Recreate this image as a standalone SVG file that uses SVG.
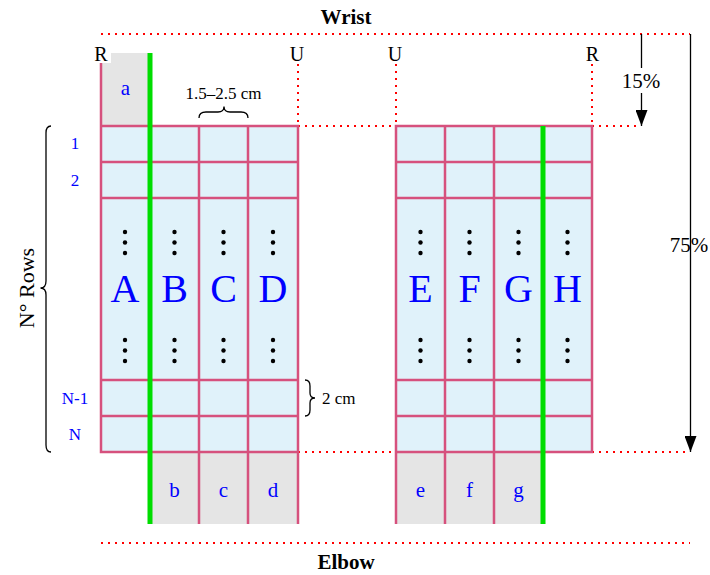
<svg xmlns="http://www.w3.org/2000/svg" width="710" height="575" viewBox="0 0 710 575">
<defs>
<style>
.grid{stroke:#d6517d;stroke-width:2.5;fill:none}
.cell{fill:#e0f2fa}
.gray{fill:#e5e5e5}
.green{stroke:#00dd00;stroke-width:5}
.dot{stroke:#ff0000;stroke-width:2;stroke-dasharray:2 5;fill:none}
.blk{stroke:#000;stroke-width:1.3;fill:none}
.t{font-family:"Liberation Serif","Times New Roman",serif;fill:#000}
.b{font-family:"Liberation Serif","Times New Roman",serif;fill:#0000ff;text-anchor:middle}
.big{font-size:40px}
.sm{font-size:21px}
.row{font-size:17px}
.vd{fill:#000}
</style>
<marker id="ah" markerWidth="16" markerHeight="12" refX="16" refY="6" orient="auto" markerUnits="userSpaceOnUse" viewBox="0 0 16 12">
<path d="M0,0 L16,6 L0,12 Z" fill="#000"/>
</marker>
<g id="vdots"><circle cx="0" cy="0" r="2.2"/><circle cx="0" cy="10.5" r="2.2"/><circle cx="0" cy="21" r="2.2"/></g>
</defs>
<rect width="710" height="575" fill="#fff"/>

<g id="guides">
<path class="dot" d="M101,34 H690"/>
<path class="dot" d="M101,543 H690"/>
<path class="dot" d="M298,64 V126 M298,126 H396 M396,64 V126 M592,64 V126 M592,126 H641"/>
<path class="dot" d="M298,452 H396 M592,452 H690"/>
</g>

<g id="left-grid">
<rect class="gray" x="101" y="53" width="49" height="73"/>
<rect class="cell" x="101" y="126" width="197" height="326"/>
<rect class="gray" x="150" y="452" width="148" height="72"/>
<path class="grid" d="M101,63 V452 H298 V126 H101 M150,126 V452 M199,126 V524 M248,126 V524 M298,452 V524 M101,162 H298 M101,198 H298 M101,380 H298 M101,416 H298"/>
<line class="green" x1="150" y1="53" x2="150" y2="524"/>
</g>

<g id="right-grid">
<rect class="cell" x="396" y="126" width="196" height="326"/>
<rect class="gray" x="396" y="452" width="147" height="72"/>
<path class="grid" d="M396,126 H592 V452 H396 Z M396,452 V524 M445,126 V524 M494,126 V524 M396,162 H592 M396,198 H592 M396,380 H592 M396,416 H592"/>
<line class="green" x1="543" y1="126" x2="543" y2="524"/>
</g>

<g id="column-labels">
<text class="b big" x="125" y="302">A</text>
<text class="b big" x="174.5" y="302">B</text>
<text class="b big" x="223.5" y="302">C</text>
<text class="b big" x="273" y="302">D</text>
<text class="b big" x="420.5" y="302">E</text>
<text class="b big" x="469.5" y="302">F</text>
<text class="b big" x="518.5" y="302">G</text>
<text class="b big" x="567.5" y="302">H</text>
<g class="vd">
<use href="#vdots" x="125" y="232"/><use href="#vdots" x="174.5" y="232"/><use href="#vdots" x="223.5" y="232"/><use href="#vdots" x="273" y="232"/>
<use href="#vdots" x="420.5" y="232"/><use href="#vdots" x="469.5" y="232"/><use href="#vdots" x="518.5" y="232"/><use href="#vdots" x="567.5" y="232"/>
<use href="#vdots" x="125" y="340"/><use href="#vdots" x="174.5" y="340"/><use href="#vdots" x="223.5" y="340"/><use href="#vdots" x="273" y="340"/>
<use href="#vdots" x="420.5" y="340"/><use href="#vdots" x="469.5" y="340"/><use href="#vdots" x="518.5" y="340"/><use href="#vdots" x="567.5" y="340"/>
</g>
<text class="b sm" x="125.5" y="95">a</text>
<text class="b sm" x="174.5" y="497">b</text>
<text class="b sm" x="223.5" y="497">c</text>
<text class="b sm" x="273" y="497">d</text>
<text class="b sm" x="420.5" y="497">e</text>
<text class="b sm" x="469.5" y="497">f</text>
<text class="b sm" x="518.5" y="497">g</text>
</g>

<g id="row-labels">
<text class="b row" x="75" y="149">1</text>
<text class="b row" x="75" y="186">2</text>
<text class="b row" x="75" y="404">N-1</text>
<text class="b row" x="75" y="440">N</text>
</g>

<g id="corner-labels">
<rect x="92" y="44" width="19" height="19" fill="#fff"/>
<text class="t" x="101" y="61" font-size="20" text-anchor="middle">R</text>
<text class="t" x="297" y="61" font-size="20" text-anchor="middle">U</text>
<text class="t" x="395" y="61" font-size="20" text-anchor="middle">U</text>
<text class="t" x="592.5" y="61" font-size="20" text-anchor="middle">R</text>
<text class="t" x="346" y="24" font-size="21" font-weight="bold" text-anchor="middle">Wrist</text>
<text class="t" x="346" y="569" font-size="21" font-weight="bold" text-anchor="middle">Elbow</text>
</g>

<g id="connectors">
<path class="blk" d="M641.5,34 V68 M641.5,93 V126" marker-end="url(#ah)"/>
<path class="blk" d="M690.5,34 V452" marker-end="url(#ah)"/>
<path class="blk" d="M199,118 Q199,112 206,112 L218,112 Q224,112 224,106.5 Q224,112 230,112 L241,112 Q248,112 248,118"/>
<path class="blk" d="M305,380 Q310,380 310,386 L310,393 Q310,398 315,398 Q310,398 310,403 L310,410 Q310,416 305,416"/>
<path class="blk" d="M51,126 Q46,126 46,133 L46,281 Q46,288 40.5,288 Q46,288 46,295 L46,445 Q46,452 51,452"/>
</g>

<g id="dimension-labels">
<text class="t" x="641" y="88" font-size="21" text-anchor="middle">15%</text>
<text class="t" x="689" y="252" font-size="21" text-anchor="middle">75%</text>
<text class="t" x="223.5" y="99" font-size="17" text-anchor="middle">1.5–2.5 cm</text>
<text class="t" x="322" y="404" font-size="17">2 cm</text>
<text class="t" x="0" y="0" font-size="22" text-anchor="middle" transform="translate(34,288) rotate(-90)">N° Rows</text>
</g>
</svg>
